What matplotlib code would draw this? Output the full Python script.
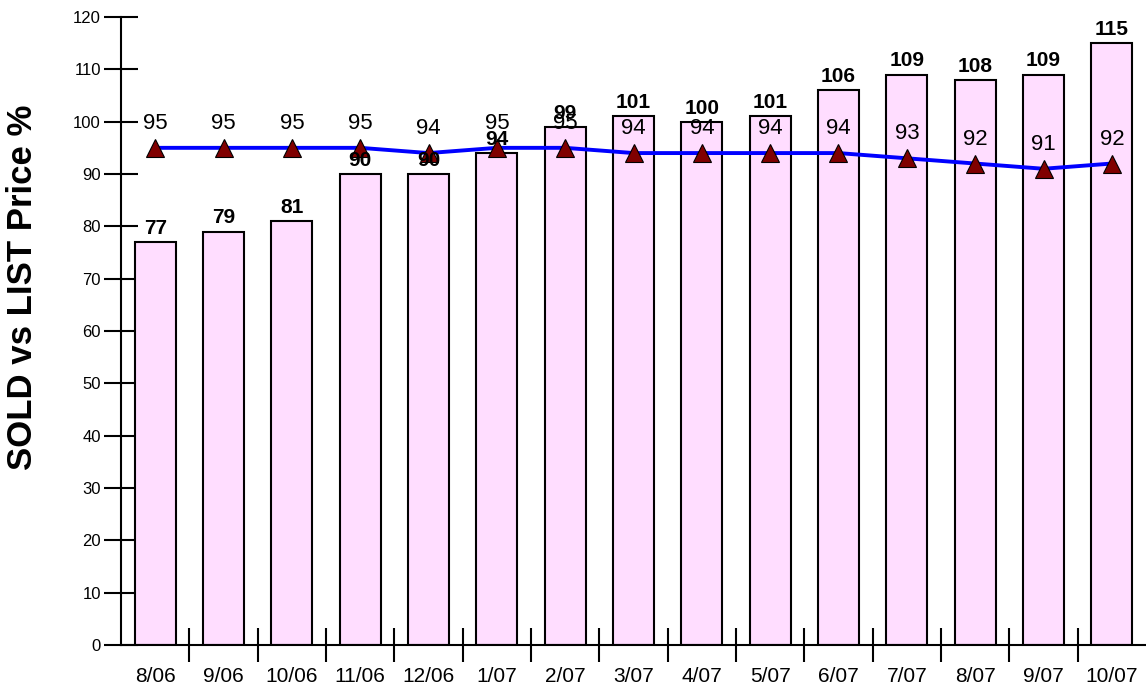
import matplotlib
matplotlib.use('Agg')
import matplotlib.pyplot as plt

months = ['8/06', '9/06', '10/06', '11/06', '12/06', '1/07', '2/07', '3/07',
          '4/07', '5/07', '6/07', '7/07', '8/07', '9/07', '10/07']
sold_list_pct = [77, 79, 81, 90, 90, 94, 99, 101, 100, 101, 106, 109, 108, 109, 115]
trend_pct = [95, 95, 95, 95, 94, 95, 95, 94, 94, 94, 94, 93, 92, 91, 92]
y_ticks = list(range(0, 121, 10))

plt.rcParams['font.family'] = ['Liberation Sans', 'DejaVu Sans']

fig = plt.figure(figsize=(11.46, 6.90), dpi=100)
ax = fig.add_axes([121 / 1146, 45 / 690, 1 - 121 / 1146, 628 / 690])

x = list(range(len(months)))
ax.bar(x, sold_list_pct, width=0.6, color='#ffddff', edgecolor='black',
       linewidth=1.5, zorder=2)
ax.plot(x, trend_pct, color='#0000ff', linewidth=2.8, zorder=3)
ax.plot(x, trend_pct, linestyle='none', marker='^', markersize=13,
        markerfacecolor='#800000', markeredgecolor='black',
        markeredgewidth=0.8, zorder=4)

# value labels
for i, v in enumerate(sold_list_pct):
    ax.annotate(str(v), (i, v), xytext=(0, 3), textcoords='offset points',
                ha='center', va='bottom', fontsize=15, fontweight='bold', zorder=5)
for i, v in enumerate(trend_pct):
    ax.annotate(str(v), (i, v), xytext=(0, 10), textcoords='offset points',
                ha='center', va='bottom', fontsize=16, zorder=5)

ax.set_xlim(-0.5, 14.5)
ax.set_ylim(0, 120)

for s in ['top', 'right']:
    ax.spines[s].set_visible(False)
for s in ['left', 'bottom']:
    ax.spines[s].set_linewidth(1.5)

ax.set_yticks(y_ticks)
ax.set_yticklabels([str(t) for t in y_ticks], family=['Liberation Sans Narrow', 'Liberation Sans'])
ax.tick_params(axis='y', direction='inout', length=25, width=1.5, pad=2, labelsize=12)

ax.set_xticks(x)
ax.set_xticklabels(months)
ax.set_xticks([i + 0.5 for i in range(len(months) - 1)], minor=True)
ax.tick_params(axis='x', which='major', length=0, pad=16, labelsize=15)
ax.tick_params(axis='x', which='minor', direction='inout', length=24, width=1.5)

fig.text(23 / 1146, 1 - 287 / 690, 'SOLD vs LIST Price %', rotation=90,
         ha='center', va='center', fontsize=25, fontweight='bold')

fig.savefig('out.png', dpi=100)
